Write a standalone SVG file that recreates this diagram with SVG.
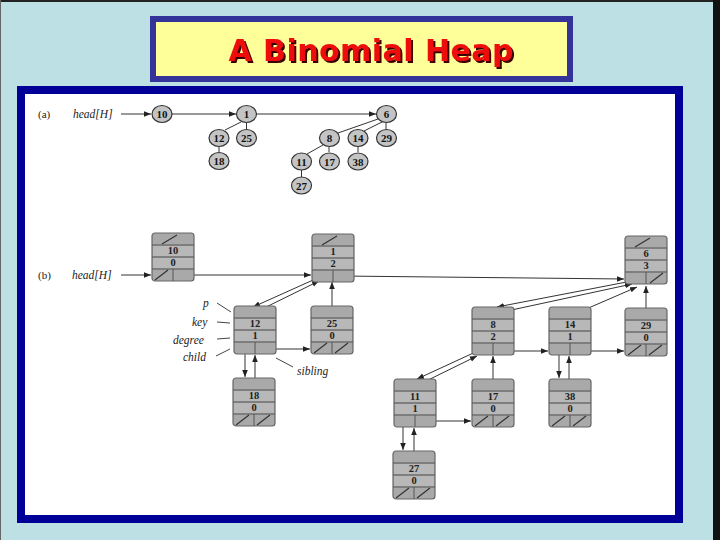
<svg xmlns="http://www.w3.org/2000/svg" xmlns:xlink="http://www.w3.org/1999/xlink" width="720" height="540" viewBox="0 0 720 540">
<style>
.bg{fill:#bde0e4}
.cn{fill:#c4c4c4;stroke:#333;stroke-width:1.2}
.ct{font-family:"Liberation Serif",serif;font-weight:bold;font-size:11px;fill:#111;text-anchor:middle}
.lbl{font-family:"Liberation Serif",serif;font-style:italic;font-size:11.5px;fill:#222}
.plain{font-family:"Liberation Serif",serif;font-size:11px;fill:#222}
.bt{font-family:"Liberation Serif",serif;font-weight:bold;font-size:10.5px;fill:#222;text-anchor:middle}
.ln{stroke:#333;stroke-width:1;fill:none}
.tl{stroke:#444;stroke-width:1;fill:none}
.sl{stroke:#333;stroke-width:1.2;fill:none}
.ar{stroke:#333;stroke-width:1;fill:none;marker-end:url(#ah)}
</style>
<defs>
<marker id="ah" viewBox="0 0 10 10" refX="10" refY="5" markerWidth="7" markerHeight="7" markerUnits="userSpaceOnUse" orient="auto">
<path d="M0,1 L10,5 L0,9 z" fill="#222"/>
</marker>
<filter id="shadow" x="-5%" y="-20%" width="110%" height="140%">
<feOffset in="SourceAlpha" dx="2" dy="2" result="off"/>
<feFlood flood-color="#3a0000"/>
<feComposite in2="off" operator="in" result="sh"/>
<feMerge><feMergeNode in="sh"/><feMergeNode in="SourceGraphic"/></feMerge>
</filter>
<g id="box">
<rect x="0" y="0" width="42" height="48" rx="3" fill="#a9a9a9" stroke="#666" stroke-width="1.2"/>
<rect x="1" y="13" width="40" height="10" fill="#b8b8b8"/>
<rect x="1" y="25" width="40" height="10" fill="#b8b8b8"/>
<path d="M0,12H42M0,24H42M0,36H42M21,36V48" stroke="#555" stroke-width="1"/>
</g>
</defs>
<rect class="bg" x="0" y="0" width="720" height="540"/>
<rect x="0" y="0" width="720" height="2" fill="#222"/>
<rect x="713" y="0" width="7" height="540" fill="#111"/>
<rect x="0" y="0" width="1" height="540" fill="#666"/>

<g id="title">
<rect x="153" y="19" width="417" height="60" fill="#ffff99" stroke="#333399" stroke-width="6"/>
<text x="371" y="61" font-family="'DejaVu Sans',sans-serif" font-weight="bold" font-size="30" fill="#ee1111" text-anchor="middle" textLength="285" filter="url(#shadow)">A Binomial Heap</text>
</g>

<g id="panel">
<rect x="21" y="90" width="658" height="429" fill="#ffffff" stroke="#000099" stroke-width="8"/>
</g>

<g id="labels">
<text class="plain" x="38" y="118">(a)</text>
<text class="lbl" x="73" y="118">head[H]</text>
<text class="plain" x="38" y="279">(b)</text>
<text class="lbl" x="72" y="279">head[H]</text>
<text class="lbl" x="203" y="307">p</text>
<text class="lbl" x="192" y="326">key</text>
<text class="lbl" x="173" y="344">degree</text>
<text class="lbl" x="183" y="361">child</text>
<text class="lbl" x="297" y="375">sibling</text>
<path class="tl" d="M217,303 L231,312 M217,322 L230,323 M217,339 L230,338 M216,356 L230,349 M276,358 L293,367"/>
</g>

<g id="connectors">
<!-- part a -->
<line class="ar" x1="121" y1="114" x2="151" y2="114"/>
<line class="ar" x1="172" y1="114" x2="236" y2="114"/>
<line class="ar" x1="257" y1="114" x2="376" y2="114"/>
<path class="ln" d="M241,122 L225,130 M246.5,123 V129 M219,147 V152 M378,119 L338,133 M382,122 L364,131 M386,123 V129 M323,145 L307,154 M329,147 V152 M358,147 V152 M301.5,170 V177"/>
<!-- part b -->
<line class="ar" x1="121" y1="275" x2="151" y2="275"/>
<line class="ar" x1="182" y1="275" x2="311" y2="275"/>
<line class="ar" x1="341" y1="276" x2="624" y2="279"/>
<line class="ar" x1="322" y1="276" x2="253" y2="307"/>
<line class="ar" x1="258" y1="311" x2="319" y2="281"/>
<line class="ar" x1="332" y1="318" x2="332" y2="282"/>
<line class="ar" x1="262" y1="349" x2="310" y2="349"/>
<line class="ar" x1="245" y1="348" x2="245" y2="377"/>
<line class="ar" x1="255" y1="388" x2="255" y2="355"/>
<line class="ar" x1="637" y1="280" x2="497" y2="307"/>
<line class="ar" x1="493" y1="314" x2="632" y2="284"/>
<line class="ar" x1="570" y1="316" x2="637" y2="287"/>
<line class="ar" x1="646" y1="319" x2="646" y2="286"/>
<line class="ar" x1="503" y1="351" x2="548" y2="351"/>
<line class="ar" x1="580" y1="351" x2="624" y2="351"/>
<line class="ar" x1="482" y1="349" x2="417" y2="379"/>
<line class="ar" x1="420" y1="384" x2="477" y2="356"/>
<line class="ar" x1="493" y1="390" x2="493" y2="356"/>
<line class="ar" x1="425" y1="421" x2="471" y2="421"/>
<line class="ar" x1="559" y1="349" x2="559" y2="378"/>
<line class="ar" x1="569" y1="391" x2="569" y2="356"/>
<line class="ar" x1="403" y1="421" x2="403" y2="450"/>
<line class="ar" x1="414" y1="462" x2="414" y2="428"/>
</g>

<!-- part (a) nodes -->
<g id="a10"><ellipse class="cn" cx="162" cy="114" rx="10" ry="8.5"/><text class="ct" x="162" y="118">10</text></g>
<g id="a1"><ellipse class="cn" cx="246.5" cy="114" rx="10" ry="8.5"/><text class="ct" x="246.5" y="118">1</text></g>
<g id="a6"><ellipse class="cn" cx="386.5" cy="114" rx="10" ry="8.5"/><text class="ct" x="386.5" y="118">6</text></g>
<g id="a12"><ellipse class="cn" cx="219" cy="138" rx="10" ry="8.5"/><text class="ct" x="219" y="142">12</text></g>
<g id="a25"><ellipse class="cn" cx="246.5" cy="138" rx="10" ry="8.5"/><text class="ct" x="246.5" y="142">25</text></g>
<g id="a18"><ellipse class="cn" cx="219" cy="161" rx="10" ry="8.5"/><text class="ct" x="219" y="165">18</text></g>
<g id="a8"><ellipse class="cn" cx="329.5" cy="138" rx="10" ry="8.5"/><text class="ct" x="329.5" y="142">8</text></g>
<g id="a14"><ellipse class="cn" cx="358" cy="138" rx="10" ry="8.5"/><text class="ct" x="358" y="142">14</text></g>
<g id="a29"><ellipse class="cn" cx="386.5" cy="138" rx="10" ry="8.5"/><text class="ct" x="386.5" y="142">29</text></g>
<g id="a11"><ellipse class="cn" cx="301.5" cy="161.5" rx="10" ry="8.5"/><text class="ct" x="301.5" y="165.5">11</text></g>
<g id="a17"><ellipse class="cn" cx="329.5" cy="161.5" rx="10" ry="8.5"/><text class="ct" x="329.5" y="165.5">17</text></g>
<g id="a38"><ellipse class="cn" cx="358" cy="161.5" rx="10" ry="8.5"/><text class="ct" x="358" y="165.5">38</text></g>
<g id="a27"><ellipse class="cn" cx="301.5" cy="185.5" rx="10" ry="8.5"/><text class="ct" x="301.5" y="189.5">27</text></g>

<!-- part (b) nodes -->
<g id="b10"><use xlink:href="#box" x="152" y="233"/><text class="bt" x="173" y="254">10</text><text class="bt" x="173" y="266">0</text>
<path class="sl" d="M162,244 L177,235 M155,280 L168,270"/></g>
<g id="b1"><use xlink:href="#box" x="312" y="234"/><text class="bt" x="333" y="255">1</text><text class="bt" x="333" y="267">2</text>
<path class="sl" d="M322,245 L337,236"/></g>
<g id="b6"><use xlink:href="#box" x="625" y="236"/><text class="bt" x="646" y="257">6</text><text class="bt" x="646" y="269">3</text>
<path class="sl" d="M635,247 L650,238 M650,283 L663,273"/></g>
<g id="b12"><use xlink:href="#box" x="234" y="306"/><text class="bt" x="255" y="327">12</text><text class="bt" x="255" y="339">1</text></g>
<g id="b25"><use xlink:href="#box" x="311" y="306"/><text class="bt" x="332" y="327">25</text><text class="bt" x="332" y="339">0</text>
<path class="sl" d="M314,353 L327,343 M335,353 L348,343"/></g>
<g id="b18"><use xlink:href="#box" x="233" y="378"/><text class="bt" x="254" y="399">18</text><text class="bt" x="254" y="411">0</text>
<path class="sl" d="M236,425 L249,415 M257,425 L270,415"/></g>
<g id="b8"><use xlink:href="#box" x="472" y="307"/><text class="bt" x="493" y="328">8</text><text class="bt" x="493" y="340">2</text></g>
<g id="b14"><use xlink:href="#box" x="549" y="307"/><text class="bt" x="570" y="328">14</text><text class="bt" x="570" y="340">1</text></g>
<g id="b29"><use xlink:href="#box" x="625" y="308"/><text class="bt" x="646" y="329">29</text><text class="bt" x="646" y="341">0</text>
<path class="sl" d="M628,355 L641,345 M649,355 L662,345"/></g>
<g id="b11"><use xlink:href="#box" x="394" y="379"/><text class="bt" x="415" y="400">11</text><text class="bt" x="415" y="412">1</text></g>
<g id="b17"><use xlink:href="#box" x="472" y="379"/><text class="bt" x="493" y="400">17</text><text class="bt" x="493" y="412">0</text>
<path class="sl" d="M475,426 L488,416 M496,426 L509,416"/></g>
<g id="b38"><use xlink:href="#box" x="549" y="379"/><text class="bt" x="570" y="400">38</text><text class="bt" x="570" y="412">0</text>
<path class="sl" d="M552,426 L565,416 M573,426 L586,416"/></g>
<g id="b27"><use xlink:href="#box" x="393" y="451"/><text class="bt" x="414" y="472">27</text><text class="bt" x="414" y="484">0</text>
<path class="sl" d="M396,498 L409,488 M417,498 L430,488"/></g>
</svg>
